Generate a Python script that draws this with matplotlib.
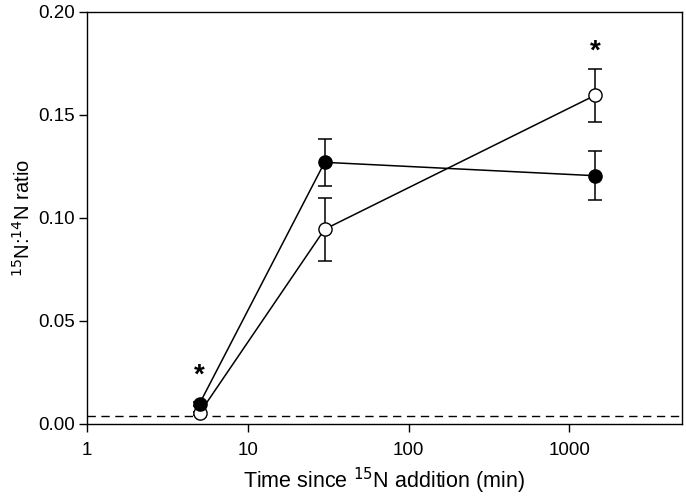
import matplotlib.pyplot as plt

plt.rcParams['font.family'] = ['Liberation Sans', 'DejaVu Sans']

time_min = [5, 30, 1440]

filled_ratio = [0.0098, 0.127, 0.1205]
filled_err = [0.001, 0.0115, 0.0118]

open_ratio = [0.0052, 0.0945, 0.1595]
open_err = [0.0007, 0.0152, 0.0128]

natural_abundance = 0.0037

star_x = [5, 1440]
star_y = [0.0235, 0.1805]

fig = plt.figure(figsize=(6.86, 4.97), dpi=100)
ax = fig.add_axes([0.127, 0.147, 0.867, 0.829])

ax.axhline(natural_abundance, color='black', linestyle=(0, (6, 4)), linewidth=1.0, zorder=1)

ax.errorbar(time_min, open_ratio, yerr=open_err, color='black', marker='o',
            markerfacecolor='white', markeredgecolor='black', markersize=9.5,
            linewidth=1.1, elinewidth=1.1, capsize=5, capthick=1.1, zorder=3)
ax.errorbar(time_min, filled_ratio, yerr=filled_err, color='black', marker='o',
            markerfacecolor='black', markeredgecolor='black', markersize=9.5,
            linewidth=1.1, elinewidth=1.1, capsize=5, capthick=1.1, zorder=4)

for sx, sy in zip(star_x, star_y):
    ax.text(sx, sy, '*', ha='center', va='center', fontsize=20, fontweight='bold')

ax.set_xscale('log')
ax.set_xlim(1, 5000)
ax.set_ylim(0, 0.20)
ax.set_xticks([1, 10, 100, 1000])
ax.set_xticklabels(['1', '10', '100', '1000'])
ax.xaxis.set_minor_locator(plt.NullLocator())
ax.set_yticks([0, 0.05, 0.10, 0.15, 0.20])
ax.set_yticklabels(['0.00', '0.05', '0.10', '0.15', '0.20'])
ax.tick_params(direction='out', length=6, width=1, labelsize=13.5)
ax.tick_params(axis='x', pad=7)
ax.tick_params(axis='y', pad=3)

ax.set_xlabel('Time since $^{15}$N addition (min)', fontsize=15.5)
ax.set_ylabel('$^{15}$N:$^{14}$N ratio', fontsize=14.5)
ax.xaxis.set_label_coords(0.5, -0.102)
ax.yaxis.set_label_coords(-0.09, 0.5)

for s in ax.spines.values():
    s.set_linewidth(1.0)

fig.savefig('out.png', dpi=100)
